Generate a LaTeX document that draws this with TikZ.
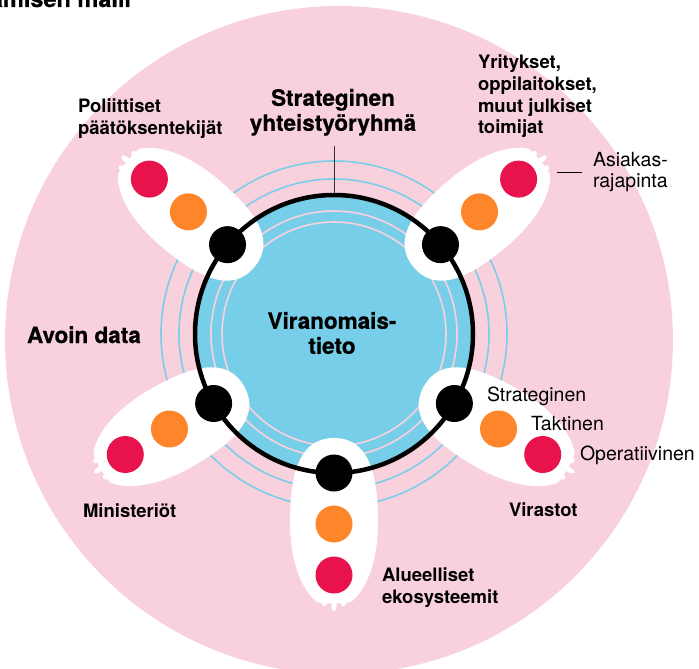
\documentclass[tikz,border=0pt]{standalone}
\usepackage{fontspec}
\setmainfont{TeX Gyre Heros}
\begin{document}
\begin{tikzpicture}[x=1pt,y=-1pt]
\definecolor{pinkbg}{RGB}{249,209,220}
\definecolor{fillblue}{RGB}{118,206,233}
\definecolor{ringblue}{RGB}{122,205,235}
\definecolor{dotred}{RGB}{232,18,76}
\definecolor{dotorange}{RGB}{254,133,42}
\tikzset{
  lbl/.style={inner sep=0pt, outer sep=0pt, text=black},
  boldlbl/.style={lbl, font=\fontsize{18.5}{21.7}\selectfont\bfseries, align=left},
  heavylbl/.style={lbl, font=\fontsize{22.5}{25}\selectfont\bfseries\addfontfeatures{FakeBold=0.6}},
  titlelbl/.style={lbl, font=\fontsize{23.5}{25}\selectfont\bfseries\addfontfeatures{FakeBold=0.6}},
  reglbl/.style={lbl, font=\fontsize{19.5}{21}\selectfont, align=left},
  dotb/.style={circle, fill=black, minimum size=37pt, inner sep=0pt},
  doto/.style={circle, fill=dotorange, minimum size=37pt, inner sep=0pt},
  dotr/.style={circle, fill=dotred, minimum size=37pt, inner sep=0pt},
  petal/.style={fill=white},
  ring/.style={draw=ringblue, line width=1.6pt},
  pinkring/.style={draw=pinkbg, line width=1.6pt},
}
\useasboundingbox (0,0) rectangle (699,669);
% background disc
\begin{scope}
\clip (0,0) rectangle (699,669);
\fill[pinkbg] (339,340) circle (334pt);
% title fragment (cut by the page edge)
\node[titlelbl, anchor=base east] (title) at (131,7) {ämisen malli};
\end{scope}
% rings
\path[ring] (334,334) circle (155pt);
\path[ring] (334,334) circle (173pt);
\fill[fillblue] (334,334) circle (139pt);
\path[pinkring] (334,334) circle (112pt);
\path[pinkring] (334,334) circle (123pt);
% petals
\foreach \a in {140,40,210,-30,-90}{
  \begin{scope}[shift={(334,334)}, rotate=\a]
    \fill[petal] (104,0) .. controls (104,34) and (138,44) .. (188,44)
      .. controls (232,44) and (258,30) .. (268,17)
      .. controls (270,10) and (270,-10) .. (268,-17)
      .. controls (258,-30) and (232,-44) .. (188,-44)
      .. controls (138,-44) and (104,-34) .. (104,0) -- cycle;
    \fill[petal] (271,0) ellipse [x radius=6.5pt, y radius=2.6pt];
    \fill[petal] (269.5,9.5) circle (2.7pt);
    \fill[petal] (269.5,-9.5) circle (2.7pt);
  \end{scope}
}
% main circle
\draw[line width=4.5pt] (334,334) circle (139pt);
% dots
\foreach \a/\n in {140/pol,40/yri,210/min,-30/vir,-90/alu}{
  \begin{scope}[shift={(334,334)}, rotate=\a]
    \node[dotb] (b\n) at (139,0) {};
    \node[doto] (o\n) at (190,0) {};
    \node[dotr] (r\n) at (241,0) {};
  \end{scope}
}
% labels
\node[heavylbl, align=center, anchor=north] (strat) at (333,89) {Strateginen\\yhteistyöryhmä};
\coordinate (stratend) at (334,146);
\coordinate (ctop) at (334,193);
\draw[line width=1pt, black!80] (stratend) -- (ctop);
\node[heavylbl, align=center, anchor=north] (viran) at (332,312) {Viranomais-\\tieto};
\node[heavylbl, anchor=base west] (avoin) at (27,343) {Avoin data};
\node[boldlbl, anchor=north west] (poli) at (78,99) {Poliittiset\\päätöksentekijät};
\node[boldlbl, anchor=north west] (yrit) at (478,55) {Yritykset,\\oppilaitokset,\\muut julkiset\\toimijat};
\node[reglbl, anchor=north west] (asiak) at (593,152) {Asiakas-\\rajapinta};
\coordinate (asl) at (557,172);
\coordinate (asr) at (582,172);
\draw[line width=1pt] (asl) -- (asr);
\node[reglbl, anchor=base west] (strg) at (487,401) {Strateginen};
\node[reglbl, anchor=base west] (takt) at (531,430) {Taktinen};
\node[reglbl, anchor=base west] (oper) at (580,460) {Operatiivinen};
\node[boldlbl, anchor=base west] (viras) at (509,516) {Virastot};
\node[boldlbl, anchor=base west] (minis) at (83,517) {Ministeriöt};
\node[boldlbl, anchor=north west] (aluee) at (382,568) {Alueelliset\\ekosysteemit};
\end{tikzpicture}
\end{document}
